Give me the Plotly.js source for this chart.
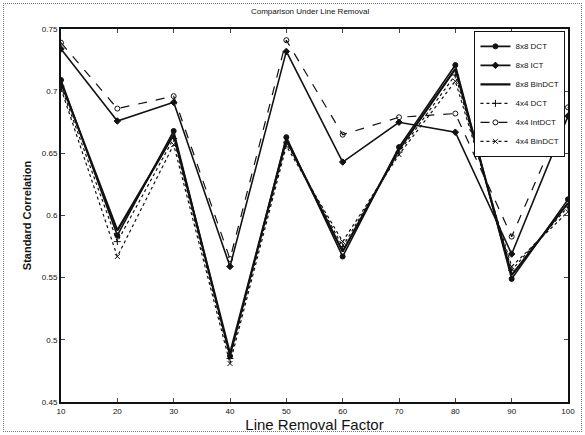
<!DOCTYPE html>
<html><head><meta charset="utf-8">
<script src="https://cdn.plot.ly/plotly-3.0.1.min.js"></script>
<style>body{margin:0;background:#fff}#frame{position:absolute;left:3px;top:3px;width:577px;height:427px;border:1px dotted #777;pointer-events:none}</style>
</head><body>
<div id="chart" style="width:585px;height:435px"></div>
<div id="frame"></div>
<script>
const factors = [10,20,30,40,50,60,70,80,90,100];
const dct8 = [0.709,0.584,0.668,0.487,0.663,0.567,0.655,0.721,0.549,0.613];
const ict8 = [0.734,0.676,0.691,0.559,0.732,0.643,0.675,0.667,0.569,0.680];
const bindct8 = [0.707,0.588,0.665,0.489,0.661,0.571,0.653,0.718,0.552,0.610];
const dct4 = [0.704,0.579,0.662,0.485,0.659,0.575,0.651,0.713,0.556,0.607];
const intdct4 = [0.739,0.686,0.696,0.565,0.741,0.665,0.679,0.682,0.583,0.687];
const bindct4 = [0.702,0.567,0.657,0.481,0.656,0.579,0.649,0.708,0.559,0.603];
const names = ['8x8 DCT','8x8 ICT','8x8 BinDCT','4x4 DCT','4x4 IntDCT','4x4 BinDCT'];
const series = [dct8, ict8, bindct8, dct4, intdct4, bindct4];
const styles = [
  {dash:'solid', sym:'circle', w:1.6},
  {dash:'solid', sym:'diamond', w:1.6},
  {dash:'solid', sym:'circle', w:2.2, nomark:true},
  {dash:'dot', sym:'cross-thin', w:1.2},
  {dash:'dash', sym:'circle-open', w:1.2},
  {dash:'dot', sym:'x-thin', w:1.2}
];
const traces = series.map((s,i)=>({
  x: factors, y: s, name: names[i], type:'scatter',
  mode: styles[i].nomark ? 'lines' : 'lines+markers',
  line:{color:'#111', width:styles[i].w, dash:styles[i].dash},
  marker:{symbol:styles[i].sym, size:5, color:'#111', line:{color:'#111', width:1}}
}));
const layout = {
  width:585, height:435,
  margin:{l:61, r:17, t:29, b:33},
  paper_bgcolor:'#fff', plot_bgcolor:'#fff',
  font:{family:'Arial, Liberation Sans, sans-serif', color:'#111'},
  title:{text:'Comparison Under Line Removal', font:{size:8, color:'#111'}, x:0.53, xanchor:'center', y:0.975, yanchor:'middle'},
  xaxis:{range:[10,100], tickvals:factors, ticktext:factors.map(String), ticks:'inside', ticklen:4, mirror:'ticks',
    showline:true, linecolor:'#111', linewidth:2, showgrid:false, zeroline:false, tickfont:{size:8},
    title:{text:'Line Removal Factor', font:{size:15}, standoff:2}},
  yaxis:{range:[0.45,0.75], tickvals:[0.45,0.5,0.55,0.6,0.65,0.7,0.75], ticktext:['0.45','0.5','0.55','0.6','0.65','0.7','0.75'],
    ticks:'inside', ticklen:4, mirror:'ticks', showline:true, linecolor:'#111', linewidth:2, showgrid:false, zeroline:false,
    tickfont:{size:8}, title:{text:'<b>Standard Correlation</b>', font:{size:11}, standoff:8}},
  legend:{x:0.995, y:0.995, xanchor:'right', yanchor:'top', bgcolor:'#fff', bordercolor:'#111', borderwidth:1,
    font:{size:8}, tracegroupgap:0, itemwidth:30},
  showlegend:true
};
Plotly.newPlot('chart', traces, layout, {displayModeBar:false, staticPlot:true});
</script>
</body></html>
